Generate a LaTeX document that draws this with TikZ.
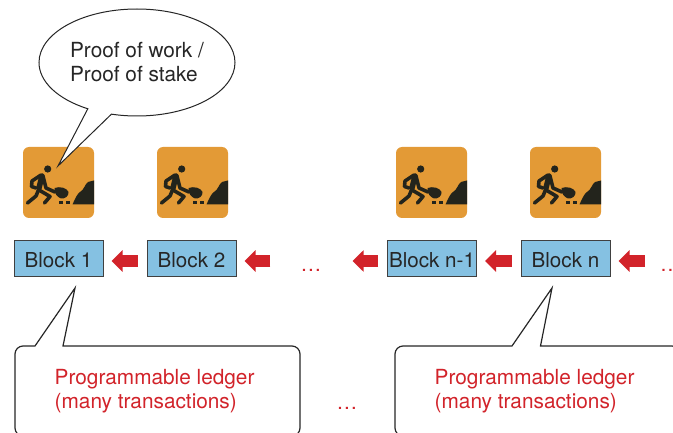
\documentclass[tikz,border=0pt]{standalone}
\usepackage{fontspec}
\setmainfont{TeX Gyre Heros}
\usetikzlibrary{arrows.meta,shapes.callouts}
\definecolor{iconorange}{HTML}{E39A36}
\definecolor{diggerblack}{HTML}{23241C}
\definecolor{blockblue}{HTML}{85C1E2}
\definecolor{ledgerred}{HTML}{D2232A}
\tikzset{
    block/.style={draw=black!75,fill=blockblue,line width=1pt,minimum width=89pt,minimum height=35.5pt,inner sep=0pt,text height=18.4pt,text depth=0pt,font=\fontsize{20.6}{24}\selectfont,text=black!85},
    chain/.style={draw=ledgerred,line width=11.5pt,-{Triangle[length=11pt,width=21pt]},shorten >=8pt,shorten <=9pt},
    dots/.style={text=ledgerred,inner sep=0pt,font=\fontsize{20.8}{24}\selectfont},
    bubble/.style={draw=black!85,line width=1.2pt,fill=white},
    bubbletext/.style={text=ledgerred,align=left,inner sep=0pt,font=\fontsize{20.8}{24}\selectfont},
}
% one digger icon, (0,0) is the top left corner
\newcommand{\digger}{
    \fill[iconorange,rounded corners=6pt] (0,0) rectangle (71,71);
    \begin{scope}[diggerblack,line width=3.6pt,line cap=round,line join=round]
	\fill (24.7,22) circle (3.6);
	\draw[line width=5.5pt] (19,29) -- (16,41);
	\draw (18,28) -- (9,34) -- (8.5,39.5) -- (13,41);
	\draw (20,29) -- (23,41) -- (32,45);
	\draw (15.5,43) -- (13,49) -- (4.5,56);
	\draw (16,43) -- (27,49.5) -- (21.5,56);
	\fill (31.5,41) .. controls (37,39) and (44,41) .. (45.5,45) .. controls (46,49) and (42,52) .. (38,51.5) .. controls (34,50) and (31,46) .. (31.5,41) -- cycle;
	\fill (36,54.5) rectangle (40,57.5);
	\fill (43,54.5) rectangle (47,57.5);
	\fill (49.5,57.5) .. controls (52,52) and (54,47) .. (57,45) .. controls (61,43) and (62,37) .. (65,35) -- (71,33.5) -- (71,57.5) -- cycle;
    \end{scope}
}
\begin{document}
\begin{tikzpicture}[x=1pt,y=-1pt]
    \useasboundingbox (0,0) rectangle (673,433);
    \clip (0,0) rectangle (673,433);

    % digger icons
    \begin{scope}[xshift=23pt,yshift=-147pt]
	\digger
    \end{scope}
    \begin{scope}[xshift=157pt,yshift=-147pt]
	\digger
    \end{scope}
    \begin{scope}[xshift=396pt,yshift=-147pt]
	\digger
    \end{scope}
    \begin{scope}[xshift=530pt,yshift=-147pt]
	\digger
    \end{scope}

    % the chain
    \coordinate (row) at (0,261);
    \node[block] (block1) at (58.5,258.5) {Block 1};
    \node[block] (block2) at (191.5,258.5) {Block 2};
    \node[block] (blockm) at (432,258.5) {Block n-1};
    \node[block] (blockn) at (565.5,258.5) {Block n};
    \node[dots] (dotsa) at (311,270) {\dots};
    \node[dots,anchor=west] (dotsb) at (660,270) {\dots};

    \draw[chain] (block2.west |- row) -- (block1.east |- row);
    \draw[chain,shorten <=30pt] (dotsa.west |- row) -- (block2.east |- row);
    \draw[chain,shorten >=31pt] (blockm.west |- row) -- (dotsa.east |- row);
    \draw[chain] (blockn.west |- row) -- (blockm.east |- row);
    \draw[chain,shorten <=15pt] (dotsb.west |- row) -- (blockn.east |- row);

    % consensus callout
    \coordinate (digtip) at (58,166);
    \node[ellipse callout,callout absolute pointer=(digtip),draw=black!85,line width=1pt,fill=white,
	minimum width=196pt,minimum height=107pt,inner sep=0pt,align=left,text=black!85,
	font=\fontsize{20.8}{24}\selectfont] (proof) at (137,62.5) {Proof of work /\\Proof of stake};

    % ledger callouts
    \coordinate (tipa) at (75,288);
    \coordinate (tipb) at (552,288);
    \draw[bubble] (tipa) -- (63,346) [rounded corners=8pt] -- (300,346) -- (300,436) -- (15,436) [sharp corners] -- (15,354) .. controls (15,349.6) and (18.6,346) .. (23,346) -- (35,346) -- cycle;
    \draw[bubble] (tipb) -- (540.5,346) [rounded corners=8pt] -- (680,346) -- (680,436) -- (395,436) [sharp corners] -- (395,354) .. controls (395,349.6) and (398.6,346) .. (403,346) -- (512,346) -- cycle;
    \node[bubbletext,anchor=north west] (ledgera) at (54.5,369.5) {Programmable ledger\\(many transactions)};
    \node[bubbletext,anchor=north west] (ledgerb) at (434.5,369.5) {Programmable ledger\\(many transactions)};
    \node[dots] (dotsc) at (347,408) {\dots};
\end{tikzpicture}
\end{document}
